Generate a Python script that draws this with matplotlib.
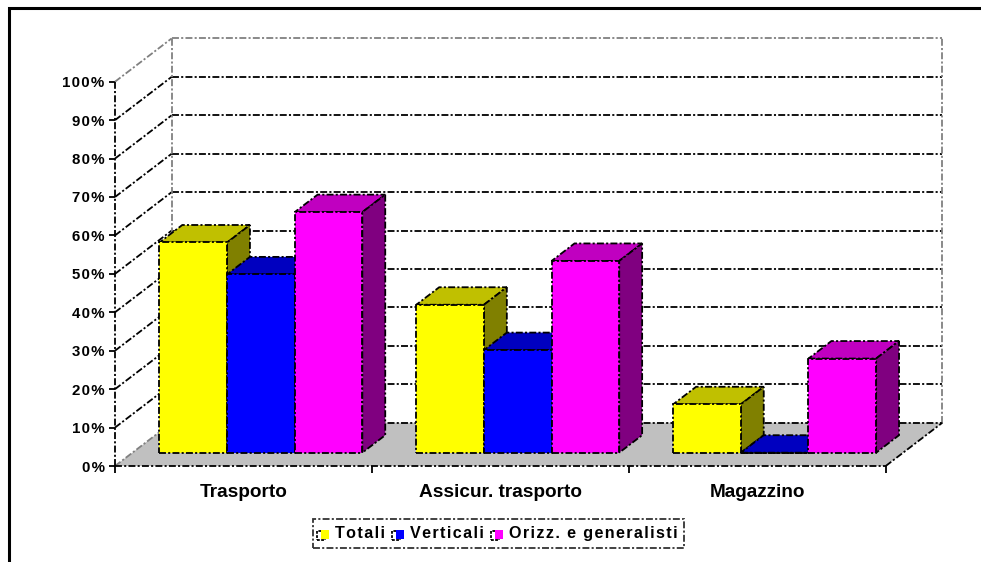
import matplotlib
matplotlib.use("Agg")
import matplotlib.pyplot as plt
from matplotlib.legend_handler import HandlerBase
from matplotlib.lines import Line2D
from matplotlib.patches import Patch, Polygon, Rectangle

plt.rcParams['font.family'] = ['Liberation Sans', 'DejaVu Sans']
plt.rcParams['font.weight'] = 'bold'
plt.rcParams['lines.scale_dashes'] = False

categories = ["Trasporto", "Assicur. trasporto", "Magazzino"]
series_names = ["Totali", "Verticali", "Orizz. e generalisti"]
totali = [54.7, 38.5, 12.6]
verticali = [46.4, 26.7, 0]
orizzontali = [62.6, 49.9, 24.5]
y_ticks = [0, 10, 20, 30, 40, 50, 60, 70, 80, 90, 100]

# front, top and side colours of each series
front_colors = ["#FFFF00", "#0000FF", "#FF00FF"]
top_colors = ["#C0C000", "#0000C0", "#C000C0"]
side_colors = ["#808000", "#000080", "#800080"]

# depth of the 3d box in axis units (categories, percent)
DEPTH_X = 0.2207
DEPTH_Y = 11.27
BAR_Z0 = 0.307
BAR_Z1 = 0.711
GAP = 0.105
BAR_W = (1 - 2 * GAP) / 3

DASH = (0, (5.0, 1.6, 1.5, 1.6))
LW = 1.3


def proj(x, y, z):
    return x + z * DEPTH_X, y + z * DEPTH_Y


def spaced(s):
    # wide tracking of the labels
    return "\u200a".join(s)


fig = plt.figure(figsize=(9.81, 5.62), dpi=100)
ax = fig.add_axes([115 / 981, (562 - 466) / 562, 770.7 / 981, 384.3 / 562])
ax.set_xlim(0, 3)
ax.set_ylim(0, 100)
ax.patch.set_visible(False)
for s in ax.spines.values():
    s.set_visible(False)


def line(xs, ys, color="black", z=2):
    ax.plot(xs, ys, color=color, lw=LW, linestyle=DASH, clip_on=False, zorder=z,
            dash_capstyle='butt')


# floor
floor = [proj(0, 0, 0), proj(3, 0, 0), proj(3, 0, 1), proj(0, 0, 1)]
ax.add_patch(Polygon(floor, closed=True, facecolor="#C0C0C0", edgecolor="none",
                     clip_on=False, zorder=1))

# gridlines along the left wall and the back wall
for v in y_ticks:
    col = "#808080" if v == 100 else "black"
    bx, by = proj(0, v, 1)
    ex, ey = proj(3, v, 1)
    line([0, bx], [v, by], color="#808080" if v in (0, 100) else "black")
    line([bx, ex], [by, ey], color=col)

# box edges
bx, by = proj(0, 0, 1)
tx, ty = proj(0, 100, 1)
line([bx, tx], [by, ty], color="#808080")
bx, by = proj(3, 0, 1)
tx, ty = proj(3, 100, 1)
line([bx, tx], [by, ty], color="#808080")
line([0, 0], [0, 100], z=3)
line([0, 3], [0, 0], z=3)
line([3, bx], [0, by], z=3)

# bars, painted from left to right
z = 4
for i in range(len(categories)):
    for j, vals in enumerate([totali, verticali, orizzontali]):
        v = vals[i]
        x0 = i + GAP + j * BAR_W
        x1 = x0 + BAR_W
        top = [proj(x0, v, BAR_Z0), proj(x1, v, BAR_Z0), proj(x1, v, BAR_Z1), proj(x0, v, BAR_Z1)]
        side = [proj(x1, 0, BAR_Z0), proj(x1, v, BAR_Z0), proj(x1, v, BAR_Z1), proj(x1, 0, BAR_Z1)]
        front = [proj(x0, 0, BAR_Z0), proj(x1, 0, BAR_Z0), proj(x1, v, BAR_Z0), proj(x0, v, BAR_Z0)]
        for pts, c in [(top, top_colors[j]), (side, side_colors[j]), (front, front_colors[j])]:
            ax.add_patch(Polygon(pts, closed=True, facecolor=c, edgecolor="black", lw=LW,
                                 linestyle=DASH, clip_on=False, zorder=z))
            z += 1

# axes ticks and labels
ax.set_yticks(y_ticks)
ax.set_yticklabels([spaced(f"{v}%") for v in y_ticks], fontsize=10.8)
ax.tick_params(axis='y', length=4.5, width=1.3, pad=3)
ax.set_xticks([0, 1, 2, 3])
ax.set_xticklabels([])
ax.tick_params(axis='x', which='major', length=5, width=1.3)
ax.set_xticks([0.5, 1.5, 2.5], minor=True)
ax.set_xticklabels(categories, minor=True, fontsize=13.7)
ax.tick_params(axis='x', which='minor', length=0, pad=13)


class SquareHandler(HandlerBase):
    # small coloured square over a dashed black outline shifted to the left
    def create_artists(self, legend, orig, xd, yd, w, h, fontsize, trans):
        outline = Rectangle((xd - 2, yd - 1), w, h, facecolor="white", edgecolor="black",
                            lw=1.3, linestyle=(0, (2, 1)), transform=trans)
        fill = Rectangle((xd + 1, yd), w, h, facecolor=orig.get_facecolor(),
                         edgecolor="none", transform=trans)
        return [outline, fill]


handles = [Patch(facecolor=c, label=spaced(n)) for c, n in zip(front_colors, series_names)]
leg = fig.legend(handles=handles, ncol=3, loc='center',
                 bbox_to_anchor=(498.5 / 981, (562 - 533.3) / 562),
                 prop={'size': 11.6, 'weight': 'bold'}, frameon=True, fancybox=False,
                 handler_map={Patch: SquareHandler()},
                 handlelength=0.5, handleheight=0.5, handletextpad=0.45,
                 columnspacing=0.6, borderpad=0.42, borderaxespad=0, labelspacing=0)
frame = leg.get_frame()
frame.set_edgecolor("black")
frame.set_linewidth(LW)
frame.set_linestyle(DASH)

# thick outer frame, top and left only
fig.add_artist(Line2D([8.5 / 981, 8.5 / 981, 1], [0, (562 - 7.5) / 562, (562 - 7.5) / 562],
                      color="black", lw=2.2, solid_joinstyle='miter'))

fig.savefig("out.png", dpi=100)
